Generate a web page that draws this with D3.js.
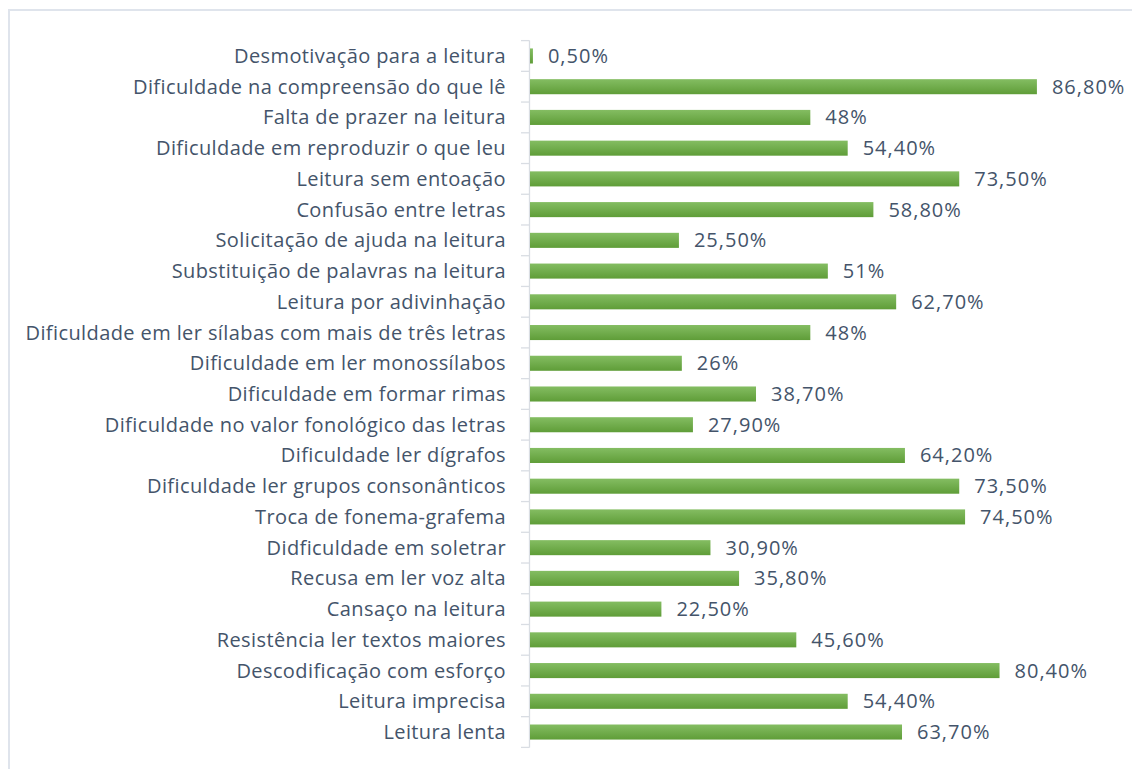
<!DOCTYPE html>
<html><head><meta charset="utf-8">
<script src="https://cdn.jsdelivr.net/npm/d3@7"></script>
<style>body{margin:0;background:#fff;} svg{display:block;}</style>
</head><body>
<svg id="c" width="1132" height="769"></svg>
<script>
const categories = [
  "Desmotivação para a leitura",
  "Dificuldade na compreensão do que lê",
  "Falta de prazer na leitura",
  "Dificuldade em reproduzir o que leu",
  "Leitura sem entoação",
  "Confusão entre letras",
  "Solicitação de ajuda na leitura",
  "Substituição de palavras na leitura",
  "Leitura por adivinhação",
  "Dificuldade em ler sílabas com mais de três letras",
  "Dificuldade em ler monossílabos ",
  "Dificuldade em formar rimas",
  "Dificuldade no valor fonológico das letras",
  "Dificuldade ler dígrafos",
  "Dificuldade ler grupos consonânticos",
  "Troca de fonema-grafema",
  "Didficuldade em soletrar",
  "Recusa em ler voz alta",
  "Cansaço na leitura",
  "Resistência ler textos maiores",
  "Descodificação com esforço",
  "Leitura imprecisa",
  "Leitura lenta"
];
const values = [0.5, 86.8, 48, 54.4, 73.5, 58.8, 25.5, 51, 62.7, 48, 26, 38.7, 27.9, 64.2, 73.5, 74.5, 30.9, 35.8, 22.5, 45.6, 80.4, 54.4, 63.7];
const valueLabels = ["0,50%","86,80%","48%","54,40%","73,50%","58,80%","25,50%","51%","62,70%","48%","26%","38,70%","27,90%","64,20%","73,50%","74,50%","30,90%","35,80%","22,50%","45,60%","80,40%","54,40%","63,70%"];

const svg = d3.select("#c");
const font = "'Open Sans', sans-serif";
const textColor = "#44546a";
const fs = 20;

// frame
svg.append("rect").attr("x", 9).attr("y", 10).attr("width", 1140).attr("height", 800)
  .attr("fill", "none").attr("stroke", "#dfe4ec").attr("stroke-width", 2);

const defs = svg.append("defs");
const g = defs.append("linearGradient").attr("id", "bg").attr("x1", 0).attr("y1", 0).attr("x2", 0).attr("y2", 1);
g.append("stop").attr("offset", "0%").attr("stop-color", "#84bd62");
g.append("stop").attr("offset", "100%").attr("stop-color", "#5f9d38");

const y = d3.scaleBand().domain(categories).range([40.6, 747.4]).paddingInner(0.51).paddingOuter(0.255);
const x = d3.scaleLinear().domain([0, 100]).range([530, 1114]);

// axis line and ticks between categories
const step = y.step();
svg.append("line").attr("x1", 529.5).attr("x2", 529.5).attr("y1", 40.6).attr("y2", 747.4)
  .attr("stroke", "#d9dde3").attr("stroke-width", 1.3);
const tickYs = d3.range(categories.length + 1).map(i => 40.6 + i * step);
svg.selectAll("line.tk").data(tickYs).join("line").attr("class", "tk")
  .attr("x1", 521).attr("x2", 529.5).attr("y1", d => d).attr("y2", d => d)
  .attr("stroke", "#d9dde3").attr("stroke-width", 1.3);

const rows = categories.map((c, i) => ({c, v: values[i], l: valueLabels[i]}));

svg.selectAll("rect.bar").data(rows).join("rect").attr("class", "bar")
  .attr("x", x(0)).attr("y", d => y(d.c)).attr("width", d => x(d.v) - x(0)).attr("height", y.bandwidth())
  .attr("fill", "url(#bg)");

svg.selectAll("text.cat").data(rows).join("text").attr("class", "cat")
  .attr("x", 506).attr("y", d => y(d.c) + y.bandwidth() / 2).attr("dy", "0.35em")
  .attr("text-anchor", "end").attr("font-family", font).attr("font-size", fs)
  .attr("letter-spacing", 0.4)
  .attr("fill", textColor).text(d => d.c);

svg.selectAll("text.val").data(rows).join("text").attr("class", "val")
  .attr("x", d => x(d.v) + 15).attr("y", d => y(d.c) + y.bandwidth() / 2).attr("dy", "0.35em")
  .attr("font-family", font).attr("font-size", fs).attr("letter-spacing", 1)
  .attr("fill", textColor).text(d => d.l);
</script>
</body></html>
